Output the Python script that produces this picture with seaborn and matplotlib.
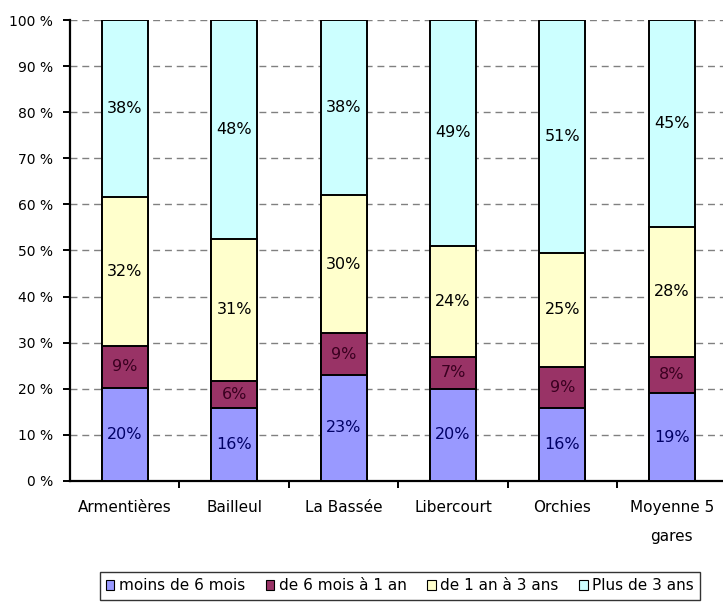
import numpy as np
import pandas as pd
import seaborn as sns
import matplotlib
matplotlib.use("Agg")
import matplotlib.pyplot as plt
from matplotlib.patches import Patch

categories = ["Armentières", "Bailleul", "La Bassée", "Libercourt", "Orchies", "Moyenne 5\ngares"]
series_names = ["moins de 6 mois", "de 6 mois à 1 an", "de 1 an à 3 ans", "Plus de 3 ans"]
moins_6_mois = [20, 16, 23, 20, 16, 19]
de_6_mois_1_an = [9, 6, 9, 7, 9, 8]
de_1_an_3_ans = [32, 31, 30, 24, 25, 28]
plus_3_ans = [38, 48, 38, 49, 51, 45]
yticks = [0, 10, 20, 30, 40, 50, 60, 70, 80, 90, 100]
ytick_labels = ["0 %", "10 %", "20 %", "30 %", "40 %", "50 %", "60 %", "70 %", "80 %", "90 %", "100 %"]

colors = ["#9999FF", "#993366", "#FFFFCC", "#CCFFFF"]
label_colors = ["#000066", "#3a0020", "#000000", "#000000"]

sns.set_theme(style="white")
plt.rcParams['font.family'] = ['DejaVu Sans']
plt.rcParams['text.color'] = 'black'
plt.rcParams['xtick.color'] = 'black'
plt.rcParams['ytick.color'] = 'black'
plt.rcParams['xtick.labelcolor'] = 'black'
plt.rcParams['ytick.labelcolor'] = 'black'

vals = np.array([moins_6_mois, de_6_mois_1_an, de_1_an_3_ans, plus_3_ans], dtype=float)
pct = vals / vals.sum(axis=0) * 100
cum = np.cumsum(pct, axis=0)

df = pd.DataFrame({"cat": categories})
for i, name in enumerate(series_names):
    df[name] = cum[i]

fig = plt.figure(figsize=(7.23, 6.06), dpi=100)
ax = fig.add_axes([70/723, 1-481/606, 1-70/723 + 0.005, (481-20)/606])

for i in range(3, -1, -1):
    sns.barplot(data=df, x="cat", y=series_names[i], color=colors[i], width=0.42,
                edgecolor="black", linewidth=1.4, saturation=1, ax=ax, zorder=3)

for i in range(4):
    for j in range(len(categories)):
        bottom = cum[i-1][j] if i > 0 else 0
        mid = (bottom + cum[i][j]) / 2
        ax.text(j, mid, f"{int(vals[i][j])}%", ha="center", va="center",
                fontsize=11.5, color=label_colors[i], zorder=5)

ax.set_ylim(0, 100)
ax.set_xlim(-0.5, 5.5)
ax.set_yticks(yticks)
ax.set_yticklabels(ytick_labels, fontsize=10, color="black")
ax.set_xticks(range(len(categories)))
ax.set_xticklabels(categories, fontsize=11, linespacing=2.1, color="black")
ax.tick_params(axis="x", length=0, pad=14)
ax.set_xticks(np.arange(0.5, 5.5, 1), minor=True)
ax.tick_params(axis="x", which="minor", length=5, width=1.4, color="black", direction="out", bottom=True)
ax.tick_params(axis="y", length=5, width=1.4, color="black", direction="out", left=True, pad=7)
ax.set_xlabel("")
ax.set_ylabel("")
ax.yaxis.grid(True, linestyle=(0, (5, 3.5)), color="#808080", linewidth=1.0, zorder=0)
ax.set_axisbelow(True)
for s in ["top", "right"]:
    ax.spines[s].set_visible(False)
for s in ["left", "bottom"]:
    ax.spines[s].set_color("black")
    ax.spines[s].set_linewidth(1.6)

handles = [Patch(facecolor=colors[i], edgecolor="black", linewidth=0.8) for i in range(4)]
leg = fig.legend(handles, series_names, loc="center", bbox_to_anchor=(400/723, 1-586/606),
                 ncol=4, frameon=True, fontsize=11, handlelength=0.55, handleheight=0.55,
                 handletextpad=0.3, columnspacing=1.35, borderpad=0.4, fancybox=False,
                 labelcolor="black")
leg.get_frame().set_edgecolor("black")
leg.get_frame().set_linewidth(1.0)

fig.savefig("out.png", dpi=100)
